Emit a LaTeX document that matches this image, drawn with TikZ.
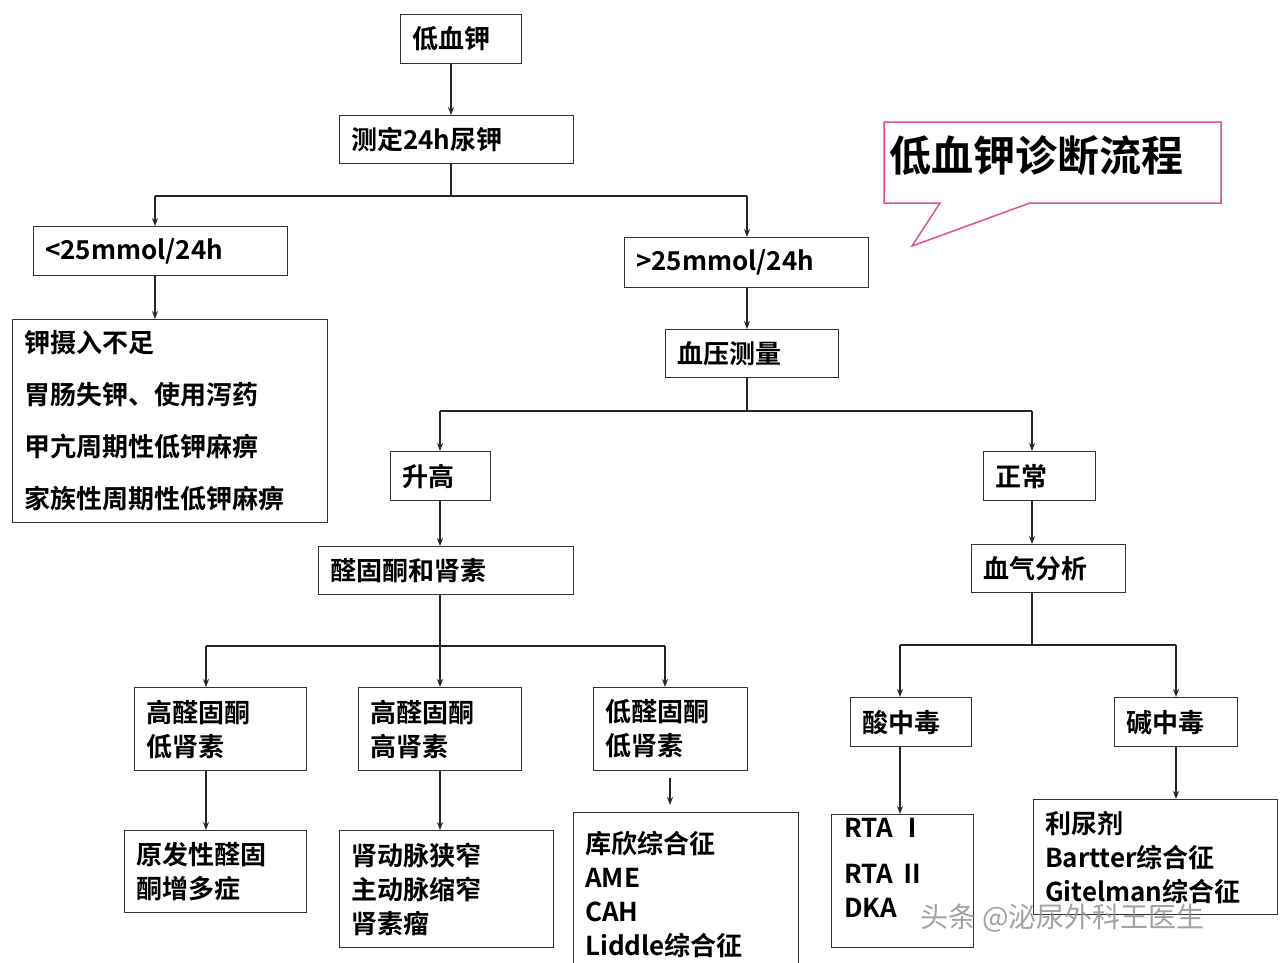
\documentclass[tikz,border=0pt]{standalone}
\usepackage{fontspec}
\usetikzlibrary{arrows.meta}
\setmainfont{Noto Sans CJK SC}[BoldFont={* Bold}]
\begin{document}
\begin{tikzpicture}[x=1pt,y=-1pt,
  box/.style={draw=black!80,line width=1.3pt,inner sep=0pt},
  txt/.style={anchor=west,align=left,inner sep=0pt,font=\fontsize{26}{34}\selectfont\bfseries},
  arr/.style={-{Stealth[length=8pt,width=6pt]},line width=1.2pt,draw=black!85},
  ln/.style={line width=1.2pt,draw=black!85}]
\useasboundingbox (0,0) rectangle (1280,962);
\fill[white] (0,0) rectangle (1280,962);
\newcommand{\bx}[6]{% name, x1,y1,x2,y2, text
  \node[box,minimum width={#4-#2},minimum height={#5-#3},anchor=north west] (#1) at (#2,#3) {};
  \node[txt] (#1t) at ([xshift=12pt]#1.west) {#6};}
\bx{A}{400}{14}{521}{63}{低血钾}
\bx{B}{339}{115}{573}{163}{测定24h尿钾}
\bx{C}{33}{226}{287}{275}{<25mmol/24h}
\bx{D}{624}{237}{868}{287}{>25mmol/24h}
\node[box,minimum width=315,minimum height=203,anchor=north west] (E) at (12,319) {};
\node[txt,font=\fontsize{26}{52}\selectfont\bfseries] (Et) at ([xshift=12pt]E.west) {钾摄入不足\\胃肠失钾、使用泻药\\甲亢周期性低钾麻痹\\家族性周期性低钾麻痹};
\bx{F}{665}{329}{838}{377}{血压测量}
\bx{G}{390}{451}{490}{500}{升高}
\bx{H}{983}{451}{1095}{500}{正常}
\bx{I}{318}{546}{573}{594}{醛固酮和肾素}
\bx{J}{971}{544}{1125}{592}{血气分析}
\bx{K1}{134}{687}{306}{770}{高醛固酮\\低肾素}
\bx{K2}{358}{687}{521}{770}{高醛固酮\\高肾素}
\bx{K3}{593}{687}{747}{770}{低醛固酮\\低肾素}
\bx{L1}{124}{830}{306}{912}{原发性醛固\\酮增多症}
\bx{L2}{339}{830}{553}{947}{肾动脉狭窄\\主动脉缩窄\\肾素瘤}
\bx{L3}{573}{812}{798}{975}{库欣综合征\\AME\\CAH\\Liddle综合征}
\bx{M}{850}{697}{971}{746}{酸中毒}
\bx{N}{1114}{697}{1237}{746}{碱中毒}
\node[box,minimum width=142,minimum height=133,anchor=north west] (O) at (831,814) {};
\node[txt,anchor=north west] (Ot) at (844,818) {RTA Ⅰ\\[12pt]RTA Ⅱ\\DKA};
\bx{P}{1033}{799}{1277}{914}{利尿剂\\Bartter综合征\\Gitelman综合征}
% callout
\draw[line width=1.5pt,draw={rgb,255:red,225;green,80;blue,150},fill=white] (884,122) -- (1221,122) -- (1221,203) -- (1030,203) -- (912,246) -- (940,203) -- (884,203) -- cycle;
\node[txt,font=\fontsize{42}{44}\selectfont\bfseries] (title) at (889,156) {低血钾诊断流程};
% connectors
\draw[arr] (A.south -| 451,0) -- (B.north -| 451,0);
\draw[ln] (B.south -| 451,0) -- (451,196);
\draw[ln] (155,196) -- (747,196);
\draw[arr] (155,196) -- (C.north -| 155,0);
\draw[arr] (747,196) -- (D.north -| 747,0);
\draw[arr] (C.south -| 155,0) -- (E.north -| 155,0);
\draw[arr] (D.south -| 747,0) -- (F.north -| 747,0);
\draw[ln] (F.south -| 747,0) -- (747,411);
\draw[ln] (440,411) -- (1032,411);
\draw[arr] (440,411) -- (G.north -| 440,0);
\draw[arr] (1032,411) -- (H.north -| 1032,0);
\draw[arr] (G.south -| 440,0) -- (I.north -| 440,0);
\draw[arr] (H.south -| 1032,0) -- (J.north -| 1032,0);
\draw[ln] (I.south -| 440,0) -- (440,646);
\draw[ln] (206,646) -- (665,646);
\draw[arr] (206,646) -- (K1.north -| 206,0);
\draw[arr] (440,646) -- (K2.north -| 440,0);
\draw[arr] (665,646) -- (K3.north -| 665,0);
\draw[ln] (J.south -| 1032,0) -- (1032,645);
\draw[ln] (900,645) -- (1176,645);
\draw[arr] (900,645) -- (M.north -| 900,0);
\draw[arr] (1176,645) -- (N.north -| 1176,0);
\draw[arr] (K1.south -| 206,0) -- (L1.north -| 206,0);
\draw[arr] (K2.south -| 440,0) -- (L2.north -| 440,0);
\coordinate (k3s) at (670,778);
\draw[arr] (k3s) -- (670,805);
\draw[arr] (M.south -| 900,0) -- (O.north -| 900,0);
\draw[arr] (N.south -| 1176,0) -- (P.north -| 1176,0);
\node[inner sep=0pt,anchor=west,text=black!45,opacity=0.8,font=\fontsize{28}{30}\selectfont] (wm) at (920,918) {头条 @泌尿外科王医生};
\end{tikzpicture}
\end{document}
